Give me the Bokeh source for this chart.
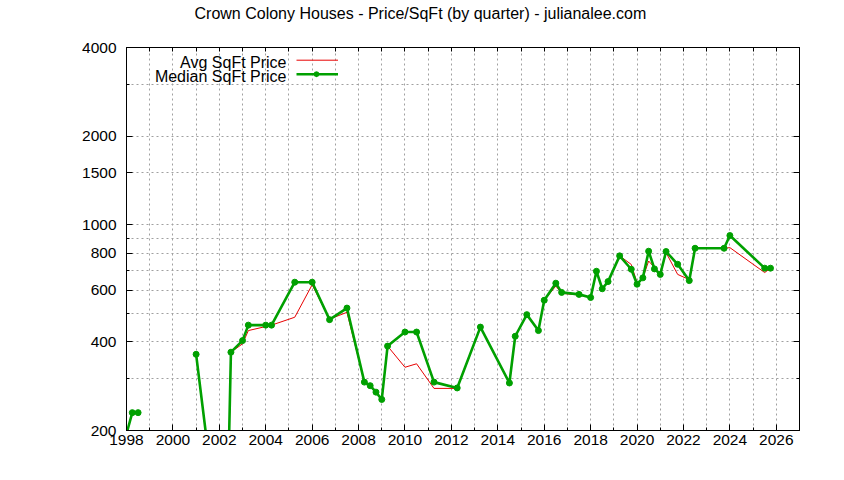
from bokeh.plotting import figure
from bokeh.models import (Range1d, FixedTicker, LogAxis, LinearAxis, Label, Arrow,
                          PolyAnnotation, NumeralTickFormatter, CustomJSTickFormatter)
from bokeh.embed import file_html
from bokeh.resources import INLINE
import numpy as np

TITLE = "Crown Colony Houses - Price/SqFt (by quarter) - julianalee.com"
SERIES_NAMES = ["Avg SqFt Price", "Median SqFt Price"]

quarters = [1998.0, 1998.25, 1998.5,
            2001.0, 2001.5, 2002.25, 2002.5, 2003.0, 2003.25, 2004.0, 2004.25,
            2005.25, 2006.0, 2006.75, 2007.5,
            2008.25, 2008.5, 2008.75, 2009.0, 2009.25, 2010.0, 2010.5, 2011.25,
            2012.25, 2013.25, 2014.5, 2014.75,
            2015.25, 2015.75, 2016.0, 2016.5, 2016.75, 2017.5, 2018.0, 2018.25,
            2018.5, 2018.75, 2019.25, 2019.75,
            2020.0, 2020.25, 2020.5, 2020.75, 2021.0, 2021.25, 2021.75, 2022.25,
            2022.5, 2023.75, 2024.0, 2025.5, 2025.75]

avg_price = [195, 230, 230,
             363, 174, 46, 369, 394, 437, 451, 456,
             485, 625, 478, 504,
             292, 284, 270, 255, 387, 328, 337, 278,
             278, 449, 290, 418,
             495, 437, 554, 619, 585, 577, 566, 695,
             606, 641, 784, 733,
             635, 660, 753, 715, 678, 804, 678, 651,
             832, 832, 836, 688, 712]

median_price = [195, 230, 230,
                363, 174, 46, 369, 404, 456, 456, 456,
                638, 638, 476, 521,
                292, 284, 270, 255, 387, 432, 432, 292,
                279, 449, 290, 418,
                495, 437, 554, 633, 589, 580, 566, 695,
                606, 641, 784, 706,
                628, 660, 813, 708, 678, 811, 734, 646,
                832, 832, 919, 712, 712]

# the line is broken after these quarters (no sales in between)
line_breaks = [1998.5]

x_major = list(range(1998, 2027, 2))
x_minor = list(range(1999, 2028, 2))
x_all = list(range(1998, 2028))
y_major = [200, 400, 600, 800, 1000, 1500, 2000, 4000]
y_minor = [300, 500, 700, 900, 3000]

FONT = "Liberation Sans"
GRID = "#a0a0a0"
RED = "#e80000"
GREEN = "#00a000"


def with_breaks(xs, ys):
    bx, by = [], []
    for x, y in zip(xs, ys):
        bx.append(x)
        by.append(y)
        if x in line_breaks:
            bx.append(np.nan)
            by.append(np.nan)
    return bx, by


p = figure(width=836, height=470, output_backend="svg", toolbar_location=None,
           x_range=Range1d(1998, 2027), y_range=Range1d(200, 4000),
           y_axis_type="log",
           min_border_left=126, min_border_right=37,
           min_border_top=47, min_border_bottom=40)

p.title.text = TITLE
p.title.align = "left"
p.title.offset = 68
p.title.standoff = 0
p.title.vertical_align = "bottom"
p.title.text_font = FONT
p.title.text_font_size = "16px"
p.title.text_font_style = "normal"
p.title.text_color = "black"

p.outline_line_color = "black"
p.outline_line_width = 1
p.background_fill_color = "white"
p.border_fill_color = "white"

xt = FixedTicker(ticks=x_major, minor_ticks=x_minor)
yt = FixedTicker(ticks=y_major, minor_ticks=y_minor)

for ax in p.xaxis:
    ax.ticker = xt
for ax in p.yaxis:
    ax.ticker = yt
    ax.formatter = NumeralTickFormatter(format="0")


def style_axis(ax):
    ax.axis_line_color = "black"
    ax.major_tick_line_color = "black"
    ax.minor_tick_line_color = "black"
    ax.major_tick_in = 6
    ax.major_tick_out = 0
    ax.minor_tick_in = 3
    ax.minor_tick_out = 0
    ax.major_label_text_font = FONT
    ax.major_label_text_font_size = "15.5px"
    ax.major_label_text_color = "black"


style_axis(p.xaxis[0])
style_axis(p.yaxis[0])
p.xaxis[0].major_label_standoff = 4
p.yaxis[0].major_label_standoff = 10

# mirrored tick marks on the right and top borders (labels not painted)
right = LogAxis(ticker=yt, formatter=CustomJSTickFormatter(code="return ''"))
style_axis(right)
right.major_label_text_color = None
right.major_label_standoff = 0
p.add_layout(right, "right")

# top border: inward ticks every year; the (invisible) outward major ticks
# reserve the room above the frame in which the title sits
top = LinearAxis(ticker=FixedTicker(ticks=x_major, minor_ticks=x_all),
                 formatter=CustomJSTickFormatter(code="return ''"))
style_axis(top)
top.major_label_text_color = None
top.major_label_standoff = 0
top.major_tick_line_color = None
top.major_tick_in = 0
top.major_tick_out = 26
top.minor_tick_in = 4
p.add_layout(top, "above")

for g in (p.xgrid[0], p.ygrid[0]):
    g.grid_line_color = GRID
    g.grid_line_dash = "2 3"
    g.grid_line_width = 1
    g.minor_grid_line_color = GRID
    g.minor_grid_line_dash = "2 3"
    g.minor_grid_line_width = 1

ax_, ay_ = with_breaks(quarters, avg_price)
mx_, my_ = with_breaks(quarters, median_price)
p.line(ax_, ay_, line_color=RED, line_width=1)
p.line(mx_, my_, line_color=GREEN, line_width=2.6)
p.scatter(quarters, median_price, marker="circle", size=6, fill_color=GREEN,
          line_color=GREEN)

# legend (gnuplot style: text on the left, sample on the right)
for i, (name, col, lw) in enumerate(zip(SERIES_NAMES, [RED, GREEN], [1, 2.6])):
    ys = 370.3 - 14 * i
    p.add_layout(Label(x=160, y=ys - 2.3, x_units="screen", y_units="screen", text=name,
                       text_align="right", text_baseline="alphabetic", text_font=FONT,
                       text_font_size="16px", text_color="black"))
    p.add_layout(Arrow(end=None, x_start=170, x_end=211.5, y_start=ys, y_end=ys,
                       start_units="screen", end_units="screen",
                       line_color=col, line_width=lw))

mk = [(0, 3), (2.1, 2.1), (3, 0), (2.1, -2.1), (0, -3), (-2.1, -2.1), (-3, 0), (-2.1, 2.1)]
p.add_layout(PolyAnnotation(xs=[190 + a for a, b in mk], ys=[356.3 + b for a, b in mk],
                            xs_units="screen", ys_units="screen",
                            fill_color=GREEN, fill_alpha=1, line_color=None))

open("out.html", "w").write(file_html(p, INLINE))
